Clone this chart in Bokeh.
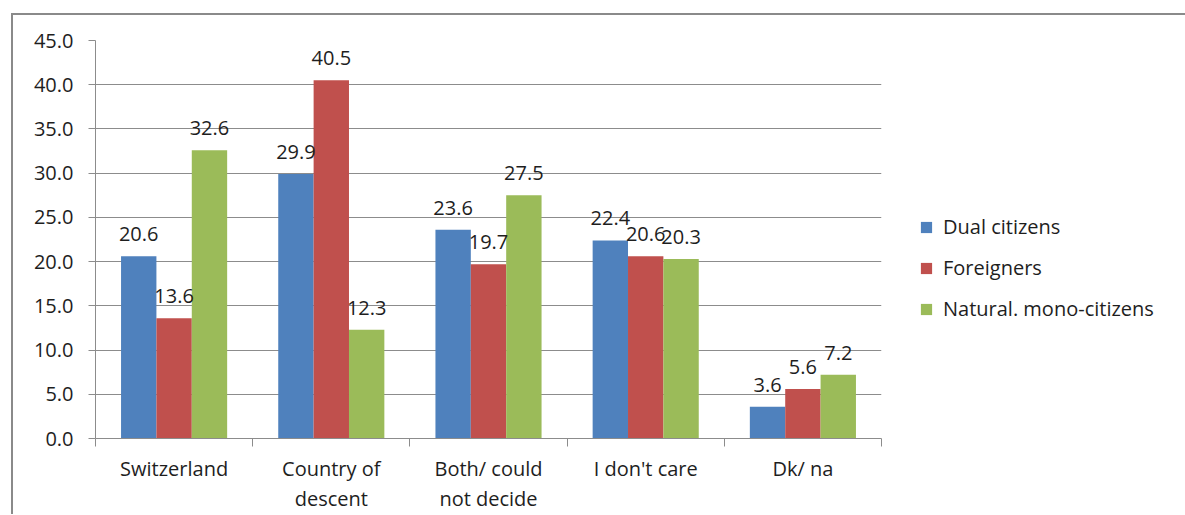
from bokeh.plotting import figure
from bokeh.models import (ColumnDataSource, FixedTicker, Legend, LegendItem,
                          LabelSet, Range1d, NumeralTickFormatter)
from bokeh.core.properties import value
from bokeh.embed import file_html
from bokeh.resources import INLINE

# Survey answers (%) by group
categories = ["Switzerland", "Country of\ndescent", "Both/ could\nnot decide",
              "I don't care", "Dk/ na"]
series_names = ["Dual citizens", "Foreigners", "Natural. mono-citizens"]
dual = [20.6, 29.9, 23.6, 22.4, 3.6]
foreigners = [13.6, 40.5, 19.7, 20.6, 5.6]
natural_mono = [32.6, 12.3, 27.5, 20.3, 7.2]
colors = ["#4F81BD", "#C0504D", "#9BBB59"]
y_ticks = [0, 5, 10, 15, 20, 25, 30, 35, 40, 45]

FONT = "Open Sans"
FS = "20px"
TEXT = "#1e1e1e"
GRID = "#8c8c8c"

p = figure(frame_width=786, frame_height=398,
           min_border_left=82, min_border_top=25, min_border_right=292,
           min_border_bottom=75,
           x_range=Range1d(0, len(categories)), y_range=Range1d(0, 45),
           output_backend="svg", toolbar_location=None,
           styles={"margin-left": "11px", "margin-top": "13px",
                   "border-left": "2px solid #8a8a8a",
                   "border-top": "2px solid #8a8a8a"})
p.outline_line_color = None
p.background_fill_color = "white"
p.border_fill_color = "white"

bar_w = 0.225
offsets = [-bar_w, 0.0, bar_w]
legend_items = []
for name, vals, col, off in zip(series_names, [dual, foreigners, natural_mono],
                                colors, offsets):
    src = ColumnDataSource(dict(
        x=[i + 0.5 + off for i in range(len(categories))],
        top=vals,
        lbl=[f"{v:.1f}" for v in vals]))
    r = p.vbar(x="x", top="top", width=bar_w, source=src, fill_color=col,
               line_color=None)
    legend_items.append(LegendItem(label=name, renderers=[r]))
    p.add_layout(LabelSet(x="x", y="top", text="lbl", source=src,
                          text_align="center", text_baseline="middle",
                          y_offset=22, text_font=value(FONT),
                          text_font_size=value(FS), text_color=TEXT))

# y axis
p.yaxis.ticker = FixedTicker(ticks=y_ticks)
p.yaxis.formatter = NumeralTickFormatter(format="0.0")
p.yaxis.axis_line_color = GRID
p.yaxis.major_tick_line_color = GRID
p.yaxis.major_tick_out = 7
p.yaxis.major_tick_in = 0
p.yaxis.minor_tick_line_color = None
p.yaxis.major_label_standoff = 15
p.yaxis.major_label_text_font = FONT
p.yaxis.major_label_text_font_size = FS
p.yaxis.major_label_text_color = TEXT

# x axis: labels at category centres, tick marks at boundaries
p.xaxis.ticker = FixedTicker(ticks=[i + 0.5 for i in range(len(categories))],
                             minor_ticks=list(range(len(categories) + 1)))
p.xaxis.major_label_overrides = {i + 0.5: c for i, c in enumerate(categories)}
p.xaxis.axis_line_color = GRID
p.xaxis.major_tick_line_color = None
p.xaxis.minor_tick_line_color = GRID
p.xaxis.minor_tick_out = 8
p.xaxis.minor_tick_in = 0
p.xaxis.major_label_standoff = 8
p.xaxis.major_label_text_font = FONT
p.xaxis.major_label_text_font_size = FS
p.xaxis.major_label_text_color = TEXT
p.xaxis.major_label_text_line_height = 1.12

p.xgrid.grid_line_color = None
p.ygrid.ticker = FixedTicker(ticks=y_ticks)
p.ygrid.grid_line_color = GRID
p.ygrid.grid_line_width = 1

legend = Legend(items=legend_items, location=(38, 116),
                label_text_font=FONT, label_text_font_size=FS,
                label_text_color=TEXT, glyph_width=14, glyph_height=14,
                label_height=20, spacing=14, label_standoff=10,
                border_line_color=None, background_fill_alpha=0,
                padding=0, margin=0)
p.add_layout(legend, "right")

open("out.html", "w").write(file_html(p, INLINE))
